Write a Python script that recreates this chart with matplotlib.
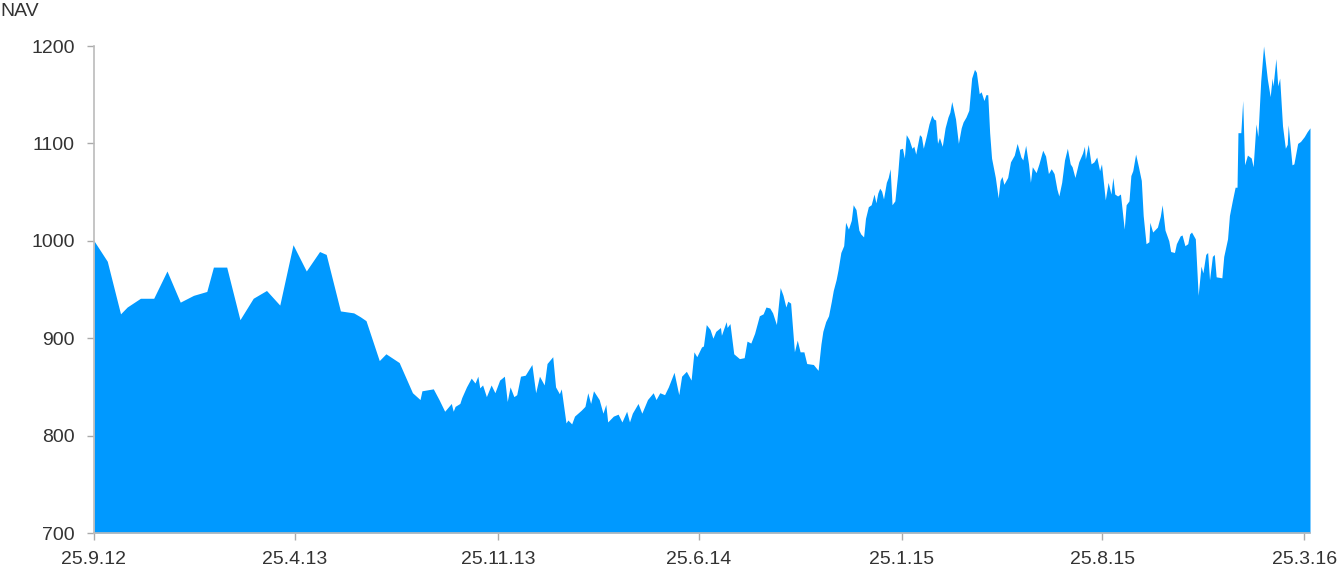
import numpy as np
import pandas as pd
import matplotlib
matplotlib.use("Agg")
import matplotlib.pyplot as plt

plt.rcParams['font.family'] = ['Liberation Sans', 'DejaVu Sans']

# NAV series, days counted from 25.9.2012
start = pd.Timestamp('2012-09-25')
days = [
    0, 14, 28, 35, 49, 63, 77, 91, 105, 119, 126, 140, 154, 168, 182, 196, 210,
    224, 238, 245, 260, 274, 281, 287, 301, 308, 322,
    336, 344, 346, 358, 364, 370, 377, 379, 381, 386, 388, 393, 398, 402, 405,
    407, 410, 414, 419, 423, 428, 433, 436, 439, 443, 446, 450, 455, 462, 466,
    470, 475, 478, 484, 487, 491, 493, 498, 500, 504, 507, 514, 518, 521, 524,
    527, 533, 537, 540, 542, 548, 553, 557, 562, 565, 568, 574, 578, 584, 590,
    593, 597, 602, 606, 612, 617, 620, 625, 630, 633, 636, 641, 643, 646, 650,
    653, 656, 661, 662, 667, 668, 671, 675, 681, 686, 689, 693, 697, 702, 706,
    709, 713, 716, 720, 724, 727, 730, 732, 735, 739, 742, 745, 749, 752, 759,
    764,
    767, 769, 772, 775, 778, 780, 783, 785, 788, 791, 793, 796, 799, 801, 804,
    807, 809, 812, 814, 817, 820, 823, 825, 827, 829, 831, 833, 836, 838, 840,
    842, 845, 848, 850, 853, 855, 857, 860, 863, 865, 867, 871, 873, 875, 878,
    881, 884, 886, 888, 890, 892, 895, 898, 901, 903, 905, 909, 912, 915, 917,
    920, 923, 926, 929, 931, 934, 936, 939, 941, 943, 945, 947, 951, 954, 956,
    958, 960, 964, 967, 971, 974, 978, 980, 983, 986, 988, 990, 994, 997, 1001,
    1004, 1007, 1010, 1013, 1016, 1018, 1021, 1024, 1027, 1030, 1032, 1035,
    1039, 1043, 1045, 1046, 1049, 1052, 1055, 1058, 1061, 1063, 1067, 1070,
    1073, 1075, 1077, 1080, 1083, 1087, 1089, 1092, 1094, 1096, 1099, 1102,
    1105, 1107, 1110, 1113, 1114, 1117, 1120, 1122, 1125, 1127, 1130, 1134,
    1136, 1140, 1142, 1146, 1148, 1151, 1154, 1156, 1158, 1162, 1165, 1168,
    1170, 1173, 1175, 1177, 1180, 1182, 1184, 1190, 1192, 1196, 1198, 1201,
    1204, 1206, 1207, 1210, 1212, 1214, 1217, 1221, 1223, 1226, 1228, 1231,
    1234, 1238, 1241, 1243, 1244, 1247, 1249, 1251, 1254, 1257, 1259, 1260,
    1264, 1266, 1270, 1273, 1277, 1280, 1283,
]
nav = [
    1000, 979, 925, 932, 941, 941, 969, 937, 944, 948, 973, 973, 919, 941, 949,
    934, 996, 969, 989, 986, 928, 926, 922, 918, 877, 884, 875,
    844, 837, 846, 848, 837, 825, 833, 825, 830, 833, 839, 850, 859, 854, 861,
    849, 852, 840, 852, 844, 857, 861, 835, 850, 840, 842, 861, 862, 873, 844,
    861, 852, 874, 881, 850, 843, 848, 813, 816, 812, 820, 826, 830, 844, 833,
    846, 837, 823, 832, 814, 820, 822, 814, 825, 814, 823, 833, 823, 837, 844,
    837, 844, 842, 850, 865, 842, 861, 866, 857, 886, 881, 891, 892, 914, 909,
    900, 907, 911, 903, 917, 911, 915, 884, 879, 880, 897, 895, 905, 923, 925,
    932, 931, 926, 914, 952, 944, 932, 938, 936, 886, 898, 886, 886, 874, 873,
    867,
    894, 907, 917, 923, 938, 949, 960, 970, 988, 995, 1019, 1012, 1021, 1037,
    1032, 1011, 1007, 1004, 1023, 1035, 1037, 1048, 1039, 1049, 1054, 1051,
    1043, 1060, 1065, 1074, 1037, 1041, 1069, 1094, 1095, 1085, 1109, 1104,
    1095, 1097, 1089, 1109, 1107, 1095, 1107, 1120, 1129, 1125, 1124, 1100,
    1106, 1097, 1116, 1127, 1132, 1143, 1125, 1100, 1116, 1122, 1127, 1134,
    1167, 1176, 1173, 1151, 1153, 1144, 1150, 1150, 1111, 1085, 1065, 1044,
    1062, 1066, 1058, 1065, 1081, 1088, 1100, 1086, 1083, 1098, 1079, 1060,
    1076, 1070, 1079, 1093, 1087, 1069, 1074, 1069, 1053, 1046, 1060, 1083,
    1095, 1079, 1076, 1065, 1081, 1090, 1097, 1084, 1099, 1079, 1081, 1086,
    1072, 1079, 1042, 1060, 1048, 1065, 1048, 1046, 1048, 1012, 1037, 1041,
    1067, 1072, 1089, 1076, 1062, 1026, 997, 999, 1019, 1009, 1012, 1014, 1025,
    1037, 1011, 1000, 989, 988, 997, 1005, 1006, 995, 997, 1007, 1009, 1002,
    944, 974, 967, 986, 988, 960, 984, 986, 963, 962, 984, 1002, 1026, 1041,
    1055, 1055, 1111, 1111, 1144, 1078, 1088, 1085, 1076, 1120, 1107, 1164,
    1200, 1166, 1148, 1167, 1159, 1187, 1159, 1167, 1118, 1095, 1099, 1119,
    1078, 1079, 1100, 1102, 1107, 1112, 1116,
]

tick_dates = ['2012-09-25', '2013-04-25', '2013-11-25', '2014-06-25',
              '2015-01-25', '2015-08-25', '2016-03-25']
tick_labels = ['25.9.12', '25.4.13', '25.11.13', '25.6.14',
               '25.1.15', '25.8.15', '25.3.16']
y_ticks = [700, 800, 900, 1000, 1100, 1200]

dates = start + pd.to_timedelta(days, unit='D')

fig = plt.figure(figsize=(13.38, 5.69), dpi=100)
ax = fig.add_axes([94 / 1338, 36 / 569, (1310 - 94) / 1338, 487 / 569])

ax.fill_between(dates, nav, 700, color='#0099ff', linewidth=0)

ax.set_xlim(dates[0], dates[-1])
ax.set_ylim(700, 1200)
ax.set_yticks(y_ticks)
ax.set_xticks(pd.to_datetime(tick_dates))
ax.set_xticklabels(tick_labels)

for s in ['top', 'right']:
    ax.spines[s].set_visible(False)
for s in ['left', 'bottom']:
    ax.spines[s].set_color('#bbbbbb')
    ax.spines[s].set_linewidth(1.2)
ax.tick_params(axis='y', length=5, width=1, color='#aaaaaa', pad=9,
               labelsize=14, labelcolor='#333333')
ax.tick_params(axis='x', length=5, width=1, color='#aaaaaa', pad=8,
               labelsize=14, labelcolor='#333333')

fig.text(0.0, 1 - 16 / 569, 'NAV', fontsize=14, color='#333333',
         ha='left', va='baseline')

fig.savefig('out.png', dpi=100)
